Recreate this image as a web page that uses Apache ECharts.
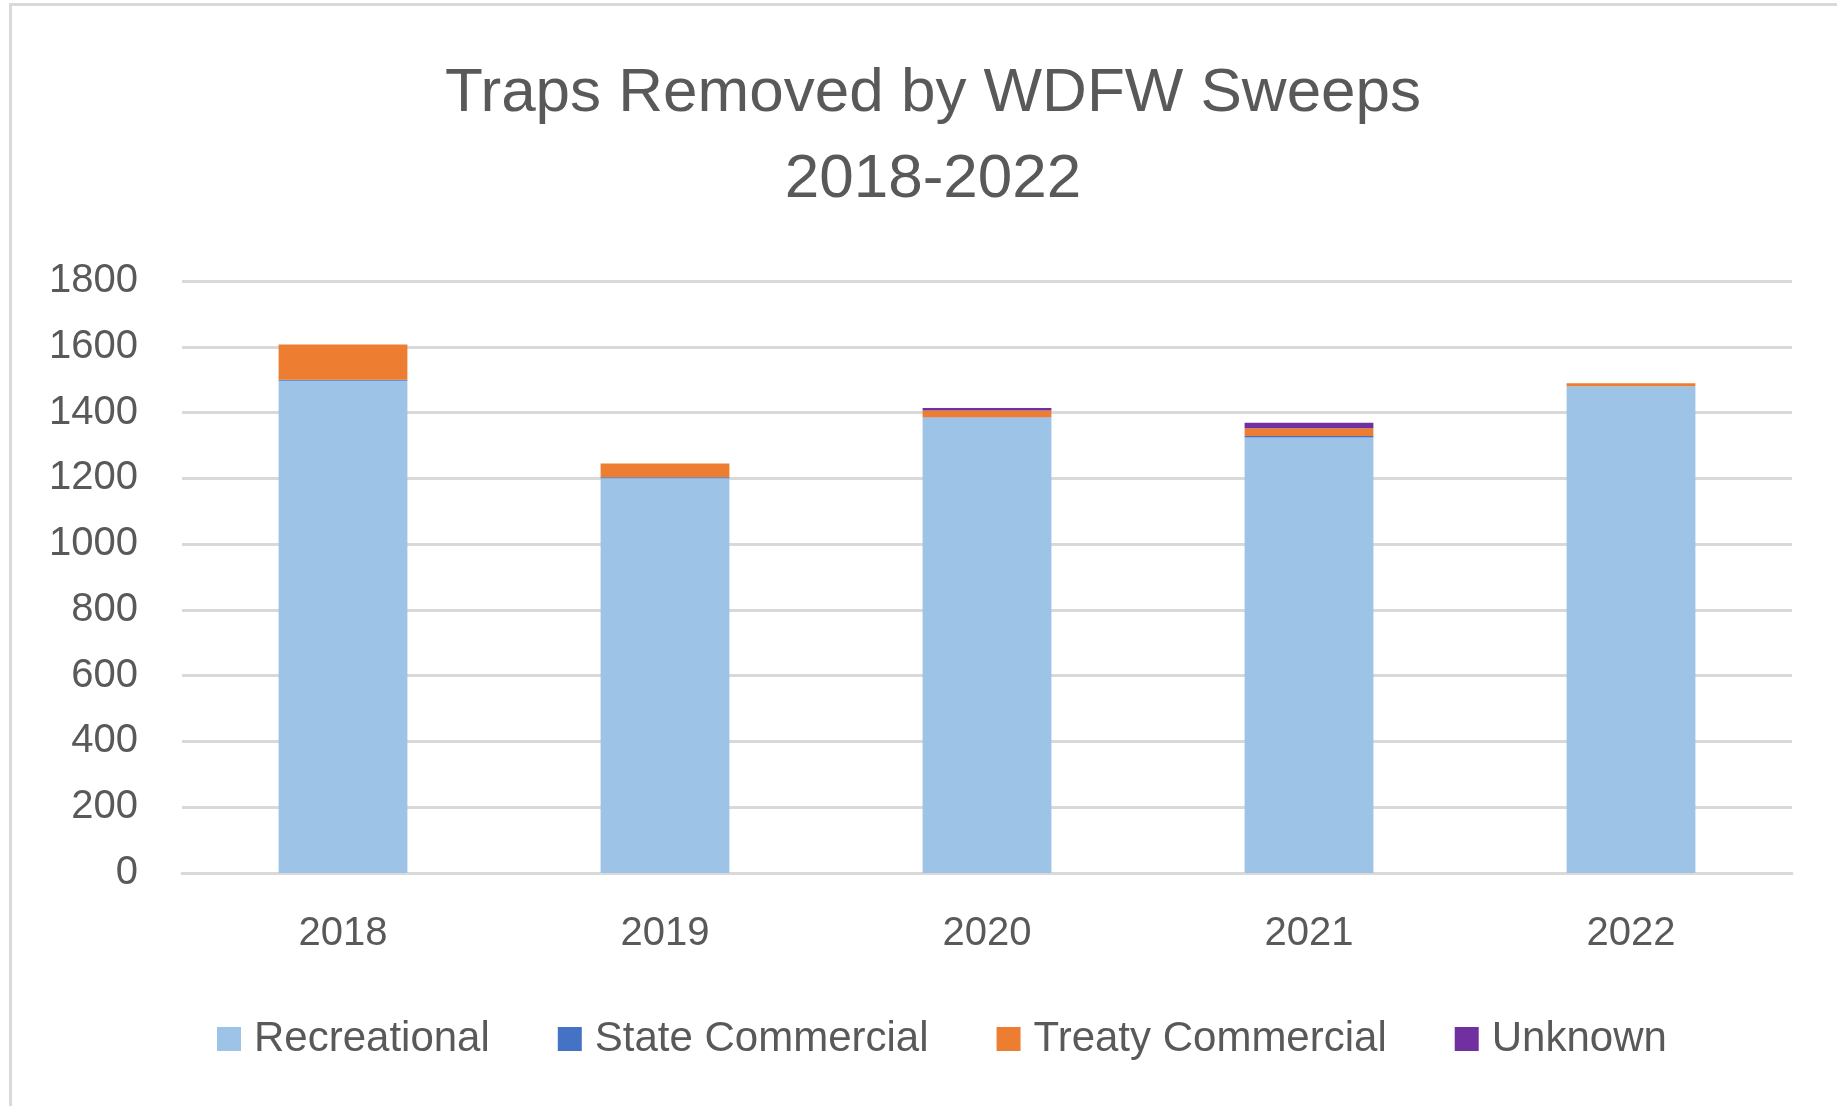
<!DOCTYPE html>
<html>
<head>
<meta charset="utf-8">
<script src="https://cdn.jsdelivr.net/npm/echarts@6/dist/echarts.min.js"></script>
<style>
  html, body { margin: 0; padding: 0; background: #fff; }
  #frame {
    position: absolute; left: 9px; top: 3px; width: 1900px; height: 1200px;
    border: 3px solid #d9d9d9; box-sizing: border-box;
  }
  #chart { position: absolute; left: 0; top: 0; width: 1837px; height: 1106px; }
</style>
</head>
<body>
<div id="frame"></div>
<div id="chart"></div>
<script>
const years = ["2018", "2019", "2020", "2021", "2022"];
const recreational = [1497, 1200, 1385, 1324, 1480];
const stateCommercial = [3, 3, 1, 5, 0];
const treatyCommercial = [107, 42, 20, 23, 9];
const unknown = [0, 0, 8, 17, 0];
const yTicks = [0, 200, 400, 600, 800, 1000, 1200, 1400, 1600, 1800];

const seriesDefs = [
  { name: "Recreational", data: recreational, color: "#9dc3e6" },
  { name: "State Commercial", data: stateCommercial, color: "#4472c4" },
  { name: "Treaty Commercial", data: treatyCommercial, color: "#ed7d31" },
  { name: "Unknown", data: unknown, color: "#7030a0" },
];

const font = "'Liberation Sans', Arial, sans-serif";
const chart = echarts.init(document.getElementById("chart"));

const option = {
  animation: false,
  title: {
    text: "Traps Removed by WDFW Sweeps\n2018-2022",
    left: 928,
    top: 46,
    textAlign: "center",
    textStyle: {
      fontFamily: font,
      fontSize: 62,
      fontWeight: "normal",
      color: "#595959",
      lineHeight: 86,
    },
  },
  legend: {
    left: 212,
    top: 1013,
    itemWidth: 24,
    itemHeight: 24,
    itemGap: 68,
    icon: "rect",
    textStyle: {
      fontFamily: font,
      fontSize: 42,
      color: "#595959",
      padding: [0, 0, 0, 8],
    },
  },
  grid: { left: 182, right: 45, top: 281, bottom: 233 },
  xAxis: {
    type: "category",
    data: years,
    axisLine: { lineStyle: { color: "#d9d9d9", width: 3 } },
    axisTick: { show: false },
    axisLabel: { fontFamily: font, fontSize: 40, color: "#595959", margin: 41 },
  },
  yAxis: {
    type: "value",
    min: yTicks[0],
    max: yTicks[yTicks.length - 1],
    interval: 200,
    axisLine: { show: false },
    axisTick: { show: false },
    splitLine: { lineStyle: { color: "#d9d9d9", width: 3 } },
    axisLabel: {
      fontFamily: font,
      fontSize: 40,
      color: "#595959",
      margin: 44,
      formatter: (v) => String(v),
    },
  },
  series: seriesDefs.map((s) => ({
    name: s.name,
    type: "bar",
    stack: "total",
    barWidth: "40%",
    data: s.data,
    itemStyle: { color: s.color },
  })),
};

chart.setOption(option);
</script>
</body>
</html>
